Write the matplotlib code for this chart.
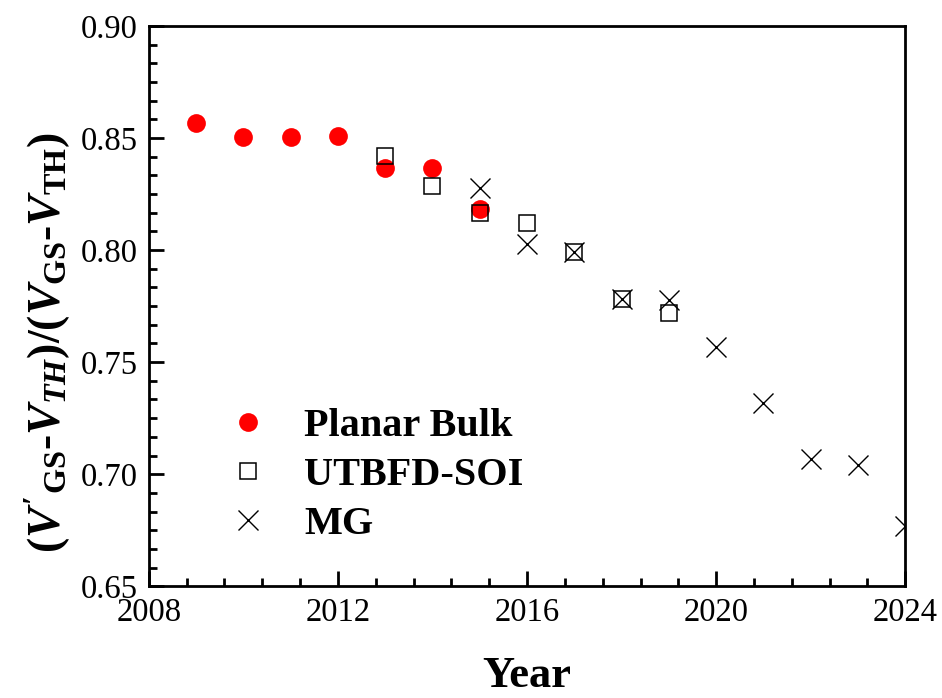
import matplotlib
matplotlib.use("Agg")
import matplotlib.pyplot as plt
from matplotlib.ticker import MultipleLocator, AutoMinorLocator

# data
bulk_year = [2009, 2010, 2011, 2012, 2013, 2014, 2015]
bulk_val = [0.8565, 0.8506, 0.8506, 0.8508, 0.8364, 0.8368, 0.8185]

soi_year = [2013, 2014, 2015, 2016, 2017, 2018, 2019]
soi_val = [0.8418, 0.8285, 0.8165, 0.8122, 0.7993, 0.7780, 0.7720]

mg_year = [2015, 2016, 2017, 2018, 2019, 2020, 2021, 2022, 2023, 2024]
mg_val = [0.8275, 0.8028, 0.7993, 0.7780, 0.7778, 0.7568, 0.7318, 0.7066, 0.7040, 0.6770]

plt.rcParams['font.family'] = ['Liberation Serif', 'DejaVu Serif']
plt.rcParams['mathtext.fontset'] = 'custom'
plt.rcParams['mathtext.rm'] = 'Liberation Serif:bold'
plt.rcParams['mathtext.it'] = 'Liberation Serif:italic:bold'
plt.rcParams['mathtext.bf'] = 'Liberation Serif:bold'

fig = plt.figure(figsize=(9.42, 6.98), dpi=100)
ax = fig.add_axes([0.158, 0.160, 0.803, 0.803])

ax.plot(bulk_year, bulk_val, 'o', color='#ff0000', ms=13.5, mec='none',
        label='Planar Bulk')
ax.plot(soi_year, soi_val, 's', mfc='none', mec='black', ms=11.5, mew=1.1,
        label='UTBFD-SOI')
ax.plot(mg_year, mg_val, 'x', color='black', ms=14.5, mew=1.0, label='MG')

ax.set_xlim(2008, 2024)
ax.set_ylim(0.65, 0.90)
ax.xaxis.set_major_locator(MultipleLocator(4))
ax.xaxis.set_minor_locator(AutoMinorLocator(5))
ax.yaxis.set_major_locator(MultipleLocator(0.05))
ax.yaxis.set_minor_locator(AutoMinorLocator(6))
ax.yaxis.set_major_formatter(matplotlib.ticker.FormatStrFormatter('%.2f'))

ax.tick_params(which='both', direction='in', width=2, labelsize=23.5,
               top=False, right=False)
ax.tick_params(which='major', length=11, pad=8)
ax.tick_params(which='minor', length=6)
for s in ax.spines.values():
    s.set_linewidth(2)

ax.set_xlabel('Year', fontsize=32, fontweight='bold', labelpad=20)
ax.set_ylabel(r"($V'_{\mathrm{GS}}$-$V_{TH}$)/($V_{\mathrm{GS}}$-$V_{\mathrm{TH}}$)",
              fontsize=33, fontweight='bold')
ax.yaxis.set_label_coords(-0.10, 0.436)

ax.legend(loc='upper left', bbox_to_anchor=(0.107, 0.319), frameon=False,
          prop={'weight': 'bold', 'size': 29}, handlelength=0.9,
          handletextpad=0.95, labelspacing=0.3, borderpad=0, borderaxespad=0)

fig.savefig('out.png', dpi=100)
